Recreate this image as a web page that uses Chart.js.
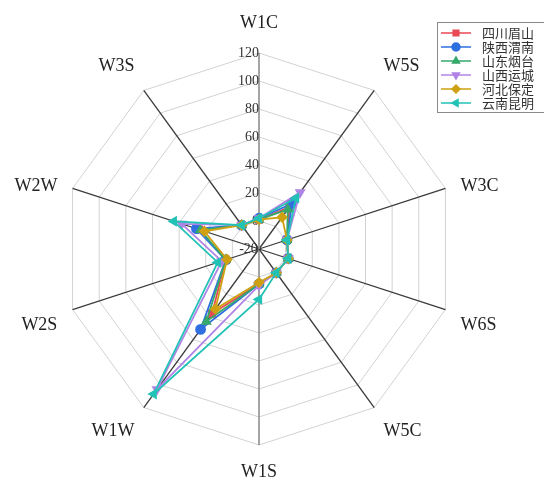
<!DOCTYPE html>
<html>
<head>
<meta charset="utf-8">
<script src="https://cdn.jsdelivr.net/npm/chart.js@4/dist/chart.umd.min.js"></script>
<style>
  html, body { margin: 0; padding: 0; background: #fff; }
  #wrap { position: relative; width: 544px; height: 484px; }
</style>
</head>
<body>
<div id="wrap"><canvas id="c" width="544" height="484"></canvas></div>
<script>
// Radar axes, clockwise from the top
const axes = ['W1C', 'W5S', 'W3C', 'W6S', 'W5C', 'W1S', 'W1W', 'W2S', 'W2W', 'W3S'];
const seriesNames = ['四川眉山', '陕西渭南', '山东烟台', '山西运城', '河北保定', '云南昆明'];

// Values per site, in axis order
const sichuanMeishan  = [1, 17, 1, 2, 1, 5, 37, 5, 25, 1];
const shaanxiWeinan   = [2, 20, 1, 2, 1, 5, 51, 5, 27, 1];
const shandongYantai  = [1, 15, 1, 2, 1, 5, 44, 5, 24, 1];
const shanxiYuncheng  = [2, 30, 1, 2, 1, 6, 104, 8, 38, 1];
const hebeiBaoding    = [1, 8, 1, 2, 1, 4, 33, 4, 21, 1];
const yunnanKunming   = [2, 25, 1, 2, 1, 16, 108, 11, 44, 1];

// Radial tick labels
const tickLabels = ['-20', '0', '20', '40', '60', '80', '100', '120'];

const seriesValues = [sichuanMeishan, shaanxiWeinan, shandongYantai, shanxiYuncheng, hebeiBaoding, yunnanKunming];
const styles = [
  { color: '#e84a55', point: 'rect',    rot: 0 },
  { color: '#2f6fe0', point: 'circle',  rot: 0 },
  { color: '#36a86c', point: 'triangle', rot: 0 },
  { color: '#b084e6', point: 'triangle', rot: 180 },
  { color: '#cfa012', point: 'rectRot', rot: 0 },
  { color: '#22c2b6', point: 'triangle', rot: 270 }
];

const datasets = seriesNames.map((name, i) => ({
  label: name,
  data: seriesValues[i],
  borderColor: styles[i].color,
  backgroundColor: styles[i].color,
  pointBackgroundColor: styles[i].color,
  pointBorderColor: styles[i].color,
  pointStyle: styles[i].point,
  pointRotation: styles[i].rot,
  pointRadius: 4.5,
  pointHoverRadius: 4.5,
  borderWidth: 1.8,
  fill: false,
  tension: 0,
  order: seriesNames.length - i
}));

// Box legend in the top-right corner, drawn on the canvas
const boxLegend = {
  id: 'boxLegend',
  afterDraw(chart) {
    const ctx = chart.ctx;
    const x0 = 437, y0 = 22, rowH = 14;
    ctx.save();
    ctx.fillStyle = 'rgba(255,255,255,0.85)';
    ctx.fillRect(x0, y0, 130, 90);
    ctx.strokeStyle = '#8a8a8a';
    ctx.lineWidth = 1;
    ctx.strokeRect(x0 + 0.5, y0 + 0.5, 130, 90);
    chart.data.datasets.forEach((ds, i) => {
      const y = y0 + 11 + i * rowH;
      ctx.strokeStyle = ds.borderColor;
      ctx.fillStyle = ds.borderColor;
      ctx.lineWidth = 1.5;
      ctx.beginPath();
      ctx.moveTo(x0 + 4, y);
      ctx.lineTo(x0 + 34, y);
      ctx.stroke();
      Chart.helpers.drawPoint(ctx, {
        pointStyle: ds.pointStyle, rotation: ds.pointRotation, radius: 4, borderWidth: 1
      }, x0 + 19, y);
      ctx.fillStyle = '#333';
      ctx.font = '13px "Noto Sans CJK SC"';
      ctx.textBaseline = 'middle';
      ctx.textAlign = 'left';
      ctx.fillText(ds.label, x0 + 45, y + 0.5);
    });
    ctx.restore();
  }
};

new Chart(document.getElementById('c'), {
  type: 'radar',
  data: { labels: axes, datasets },
  plugins: [boxLegend],
  options: {
    responsive: false,
    animation: false,
    devicePixelRatio: 1,
    plugins: { legend: { display: false }, tooltip: { enabled: false } },
    elements: { line: { borderJoinStyle: 'miter' } },
    scales: {
      r: {
        min: -20,
        max: 120,
        ticks: {
          stepSize: 20,
          showLabelBackdrop: false,
          color: '#333',
          font: { family: '"Liberation Serif", "DejaVu Serif", serif', size: 14 },
          // labels sit left of the vertical axis: pad with en spaces so the centred text ends at the axis
          callback: (v) => {
            const idx = Math.round((v + 20) / 20);
            const s = tickLabels[idx] !== undefined ? tickLabels[idx] : String(v);
            return s + '\u2002'.repeat(s.length);
          }
        },
        grid: { color: '#d2d2d2', lineWidth: 1, circular: false },
        angleLines: {
          color: (c) => (c.index % 5 === 0 ? '#8f8f8f' : '#3a3a3a'),
          lineWidth: (c) => (c.index % 5 === 0 ? 1.6 : 1.3)
        },
        pointLabels: {
          color: '#222',
          padding: (c) => (c.index === 0 ? 10 : 7),
          font: { family: '"Liberation Serif", "DejaVu Serif", serif', size: 18 }
        },
        afterFit(scale) {
          // fixed plot centre and radius, leaving room for the legend
          scale.xCenter = 259;
          scale.yCenter = 249;
          scale.drawingArea = 196;
          scale.setCenterPoint = function () {};
          scale.fit();
          delete scale.setCenterPoint;
          const items = scale._pointLabelItems || [];
          [2, 8].forEach((k) => {
            if (items[k]) { items[k].y += 14; items[k].top += 14; items[k].bottom += 14; }
          });
        }
      }
    }
  }
});
</script>
</body>
</html>
